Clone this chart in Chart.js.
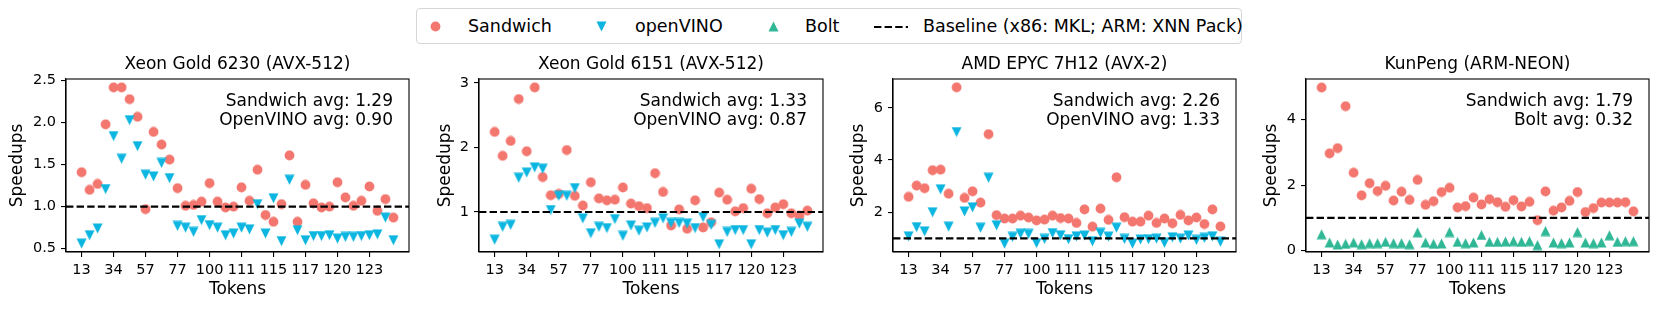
<!DOCTYPE html>
<html>
<head>
<meta charset="utf-8">
<script src="https://cdn.jsdelivr.net/npm/chart.js@4.4.1/dist/chart.umd.min.js"></script>
<style>
  body { margin: 0; background: #fff; width: 1660px; height: 310px; overflow: hidden; position: relative; font-family: "DejaVu Sans", sans-serif; }
  canvas { position: absolute; top: 48px; }
  .legend { position: absolute; left: 416px; top: 8px; width: 824px; height: 34px; border: 1px solid #d6d6d6; border-radius: 4px; background: #fff; }
  .legend span { position: absolute; top: 7px; font-size: 17.5px; color: #000; white-space: nowrap; }
  .legend svg { position: absolute; }
</style>
</head>
<body>
<div class="legend">
  <svg style="left:13px;top:12px" width="11" height="11"><circle cx="5.5" cy="5.5" r="4.9" fill="#F3776F"/></svg>
  <span style="left:51px">Sandwich</span>
  <svg style="left:179px;top:12px" width="11" height="11"><polygon points="0.5,0.6 10.5,0.6 5.5,10.4" fill="#0CB6E0"/></svg>
  <span style="left:218px">openVINO</span>
  <svg style="left:351px;top:12px" width="11" height="11"><polygon points="0.5,10.4 10.5,10.4 5.5,0.6" fill="#30B796"/></svg>
  <span style="left:388px">Bolt</span>
  <svg style="left:457px;top:16px" width="34" height="4"><line x1="0" y1="2" x2="34" y2="2" stroke="#000" stroke-width="2" stroke-dasharray="7.4,3.2"/></svg>
  <span style="left:506px">Baseline (x86: MKL; ARM: XNN Pack)</span>
</div>
<canvas id="c1" width="415" height="262" style="left:0px"></canvas>
<canvas id="c2" width="401" height="262" style="left:428px"></canvas>
<canvas id="c3" width="401" height="262" style="left:841px"></canvas>
<canvas id="c4" width="401" height="262" style="left:1254px"></canvas>
<script>
// x axis: 40 token lengths, every 4th one is labelled
const tokenTicks = ['13', '34', '57', '77', '100', '111', '115', '117', '120', '123'];

const titles = ['Xeon Gold 6230 (AVX-512)', 'Xeon Gold 6151 (AVX-512)', 'AMD EPYC 7H12 (AVX-2)', 'KunPeng (ARM-NEON)'];

const sandwich6230 = [1.41, 1.20, 1.27, 1.98, 2.42, 2.42, 2.28, 2.07, 0.97, 1.89,
  1.74, 1.56, 1.22, 1.01, 1.02, 1.06, 1.28, 1.06, 0.99, 1.00,
  1.23, 1.07, 1.44, 0.90, 0.82, 1.03, 1.61, 0.82, 1.26, 1.04,
  0.99, 1.00, 1.29, 1.11, 1.01, 1.07, 1.24, 0.95, 1.09, 0.87];
const openvino6230 = [0.56, 0.66, 0.74, 1.21, 1.84, 1.57, 2.03, 1.72, 1.38, 1.36,
  1.52, 1.34, 0.77, 0.75, 0.70, 0.84, 0.78, 0.75, 0.66, 0.68,
  0.75, 0.73, 1.03, 0.68, 1.10, 0.59, 1.32, 0.72, 0.60, 0.65,
  0.65, 0.66, 0.62, 0.64, 0.64, 0.65, 0.66, 0.67, 0.87, 0.60];

const sandwich6151 = [2.24, 1.87, 2.10, 2.75, 1.94, 2.93, 1.54, 1.26, 1.28, 1.96,
  1.25, 1.10, 1.46, 1.21, 1.18, 1.19, 1.38, 1.13, 1.09, 1.06,
  1.60, 1.31, 0.79, 1.04, 0.74, 1.18, 0.76, 0.84, 1.30, 1.19,
  1.01, 1.06, 1.36, 1.20, 0.98, 1.07, 1.12, 0.98, 0.94, 1.02];
const openvino6151 = [0.57, 0.77, 0.80, 1.53, 1.61, 1.69, 1.67, 1.03, 1.25, 1.25,
  1.37, 0.90, 0.67, 0.77, 0.75, 0.89, 0.63, 0.79, 0.71, 0.76,
  0.83, 0.90, 0.83, 0.83, 0.82, 0.75, 0.92, 0.80, 0.50, 0.69,
  0.72, 0.72, 0.50, 0.72, 0.68, 0.72, 0.64, 0.69, 0.82, 0.77];

const sandwichEpyc = [2.59, 3.02, 2.92, 3.61, 3.63, 2.71, 6.78, 2.55, 2.80, 2.37,
  4.99, 1.89, 1.76, 1.76, 1.87, 1.80, 1.69, 1.72, 1.87, 1.78,
  1.76, 1.59, 2.11, 1.45, 2.14, 1.71, 3.34, 1.81, 1.64, 1.64,
  1.87, 1.59, 1.76, 1.58, 1.90, 1.69, 1.80, 1.55, 2.11, 1.46];
const openvinoEpyc = [1.08, 1.43, 1.27, 2.00, 2.88, 1.45, 5.07, 2.03, 2.19, 1.41,
  3.32, 1.50, 0.80, 1.06, 1.18, 1.17, 0.82, 0.98, 1.20, 1.12,
  0.97, 1.08, 1.11, 0.89, 1.21, 1.07, 1.41, 0.98, 0.80, 0.96,
  0.97, 0.99, 0.83, 1.04, 0.99, 1.11, 0.94, 1.02, 1.08, 0.87];

const sandwichKunpeng = [4.98, 2.97, 3.13, 4.41, 2.38, 1.69, 2.06, 1.82, 1.98, 1.53,
  1.80, 1.55, 2.16, 1.40, 1.51, 1.79, 1.92, 1.32, 1.36, 1.62,
  1.41, 1.57, 1.48, 1.34, 1.54, 1.35, 1.49, 0.93, 1.81, 1.22,
  1.32, 1.52, 1.79, 1.18, 1.30, 1.47, 1.47, 1.47, 1.48, 1.20];
const boltKunpeng = [0.50, 0.25, 0.19, 0.21, 0.25, 0.20, 0.23, 0.23, 0.27, 0.23,
  0.23, 0.20, 0.56, 0.25, 0.21, 0.22, 0.57, 0.27, 0.23, 0.25,
  0.48, 0.27, 0.27, 0.28, 0.29, 0.27, 0.29, 0.17, 0.60, 0.25,
  0.23, 0.25, 0.57, 0.25, 0.23, 0.25, 0.47, 0.27, 0.29, 0.29];

const avgNotes = [
  ['Sandwich avg: 1.29', 'OpenVINO avg: 0.90'],
  ['Sandwich avg: 1.33', 'OpenVINO avg: 0.87'],
  ['Sandwich avg: 2.26', 'OpenVINO avg: 1.33'],
  ['Sandwich avg: 1.79', 'Bolt avg: 0.32']
];

const yTicks = [[0.5, 1.0, 1.5, 2.0, 2.5], [1, 2, 3], [2, 4, 6], [0, 2, 4]];
const baseline = 1;

const FONT = '"DejaVu Sans", sans-serif';
const RED = '#F3776F', CYAN = '#0CB6E0', GREEN = '#30B796';
const XMIN = -1.95, XMAX = 40.95;

function makeMarker(shape, color) {
  const c = document.createElement('canvas');
  c.width = 11; c.height = 11;
  const g = c.getContext('2d');
  g.fillStyle = color;
  g.beginPath();
  if (shape === 'circle') g.arc(5.5, 5.5, 4.9, 0, Math.PI * 2);
  else if (shape === 'down') { g.moveTo(0.5, 0.6); g.lineTo(10.5, 0.6); g.lineTo(5.5, 10.4); }
  else { g.moveTo(0.5, 10.4); g.lineTo(10.5, 10.4); g.lineTo(5.5, 0.6); }
  g.closePath();
  g.fill();
  return c;
}
const circleMk = makeMarker('circle', RED);
const downMk = makeMarker('down', CYAN);
const upMk = makeMarker('up', GREEN);

const toPoints = (arr) => arr.map((v, i) => ({x: i, y: v}));

// frame, panel title and the avg notes
const panelDecor = {
  id: 'panelDecor',
  afterDraw(chart, args, opts) {
    const {ctx, chartArea: a} = chart;
    ctx.save();
    ctx.strokeStyle = '#000';
    ctx.lineWidth = 1.1;
    ctx.strokeRect(a.left, a.top, a.right - a.left, a.bottom - a.top);
    ctx.fillStyle = '#000';
    ctx.font = '17px ' + FONT;
    ctx.textBaseline = 'middle';
    ctx.textAlign = 'center';
    ctx.fillText(opts.title, (a.left + a.right) / 2, a.top - 14);
    ctx.textAlign = 'right';
    opts.notes.forEach((t, k) => ctx.fillText(t, a.right - 16, a.top + 23 + k * 19));
    ctx.restore();
  }
};

function makePanel(id, k, mainVals, otherVals, otherMk, yMin, yMax, decimals, yWidth) {
  const ctx = document.getElementById(id).getContext('2d');
  return new Chart(ctx, {
    type: 'scatter',
    data: {
      datasets: [
        {
          data: [{x: XMIN, y: baseline}, {x: XMAX, y: baseline}],
          showLine: true, borderColor: '#000', borderWidth: 2.2, borderDash: [7.4, 3.2],
          pointRadius: 0
        },
        { data: toPoints(otherVals), pointStyle: otherMk, pointRadius: 5 },
        { data: toPoints(mainVals), pointStyle: circleMk, pointRadius: 5 }
      ]
    },
    options: {
      responsive: false,
      animation: false,
      events: [],
      layout: { padding: { top: 31, right: 6, left: 0, bottom: 0 } },
      plugins: {
        legend: { display: false },
        tooltip: { enabled: false },
        panelDecor: { title: titles[k], notes: avgNotes[k] }
      },
      scales: {
        x: {
          type: 'linear', min: XMIN, max: XMAX,
          afterBuildTicks: (s) => { s.ticks = tokenTicks.map((_, j) => ({value: j * 4})); },
          afterFit: (s) => { s.height = 58; },
          ticks: {
            autoSkip: false, maxRotation: 0, padding: 5, color: '#000',
            font: { family: FONT, size: 14.5 },
            callback: (v) => tokenTicks[Math.round(v / 4)]
          },
          grid: { drawOnChartArea: false, tickLength: 5, color: '#000', lineWidth: 1.1 },
          border: { color: '#000', width: 1.1 },
          title: { display: true, text: 'Tokens', color: '#000', font: { family: FONT, size: 17 }, padding: { top: 0, bottom: 10 } }
        },
        y: {
          min: yMin, max: yMax,
          afterBuildTicks: (s) => { s.ticks = yTicks[k].map((v) => ({value: v})); },
          afterFit: (s) => { s.width = yWidth; },
          ticks: {
            padding: 5, color: '#000',
            font: { family: FONT, size: 14.5 },
            callback: (v) => v.toFixed(decimals)
          },
          grid: { drawOnChartArea: false, tickLength: 5, color: '#000', lineWidth: 1.1 },
          border: { color: '#000', width: 1.1 },
          title: { display: true, text: 'Speedups', color: '#000', font: { family: FONT, size: 17 }, padding: { top: 7, bottom: 0 } }
        }
      }
    },
    plugins: [panelDecor]
  });
}

makePanel('c1', 0, sandwich6230, openvino6230, downMk, 0.46, 2.52, 1, 66);
makePanel('c2', 1, sandwich6151, openvino6151, downMk, 0.38, 3.06, 0, 51);
makePanel('c3', 2, sandwichEpyc, openvinoEpyc, downMk, 0.48, 7.10, 0, 52);
makePanel('c4', 3, sandwichKunpeng, boltKunpeng, upMk, -0.04, 5.24, 0, 52);
</script>
</body>
</html>
